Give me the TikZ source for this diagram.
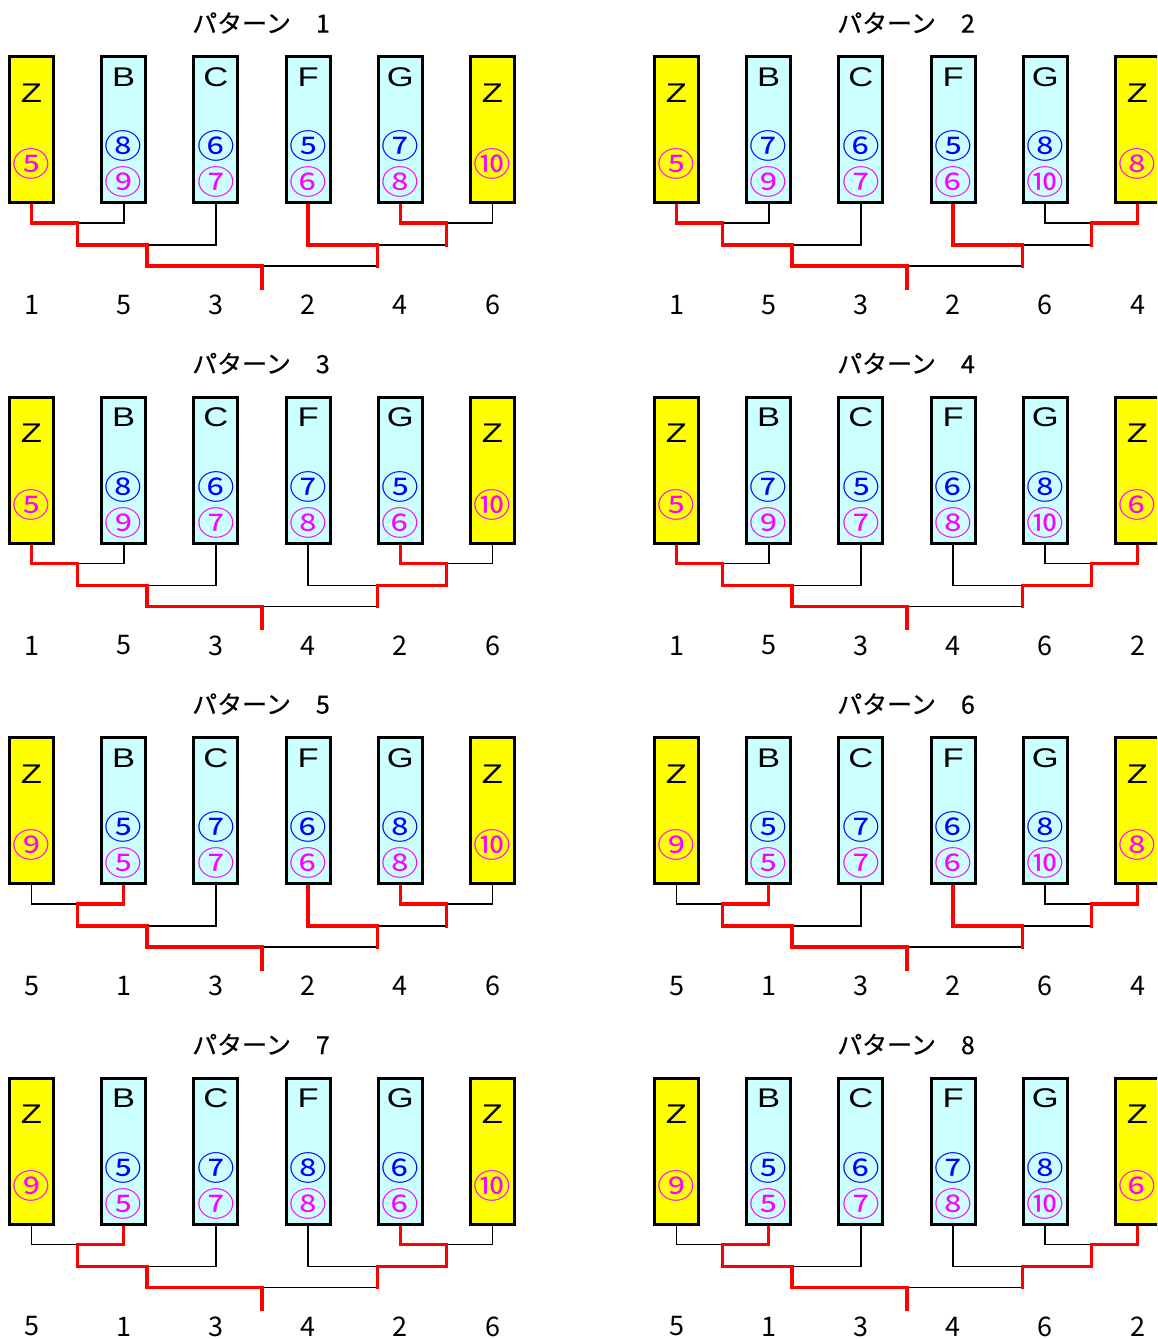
\documentclass[tikz,border=0pt]{standalone}
\usepackage{fontspec}
\setmainfont{Noto Sans CJK JP}
\newfontfamily\latinfont[FakeStretch=1.28]{Liberation Sans}
\newfontfamily\circledfont[FakeStretch=1.14]{Noto Sans CJK JP}
\newfontfamily\titlefont[FakeBold=0.5]{Noto Sans CJK JP}
\usetikzlibrary{backgrounds}
\definecolor{zyellow}{HTML}{FFFF00}
\definecolor{boxcyan}{HTML}{CCFFFF}
\definecolor{numblue}{HTML}{0000FF}
\definecolor{nummagenta}{HTML}{FF00FF}
\definecolor{winred}{HTML}{FF0000}
\begin{document}
\begin{tikzpicture}[x=1pt,y=-1pt,
  box/.style={draw, line width=3pt, minimum width=44pt, minimum height=146pt, inner sep=0pt},
  zbox/.style={box, fill=zyellow},
  cbox/.style={box, fill=boxcyan},
  letter/.style={font={\latinfont\fontsize{27}{27}\selectfont}, inner sep=0pt},
  circled/.style={font={\circledfont\fontsize{33}{33}\selectfont}, inner sep=0pt},
  topnum/.style={circled, text=numblue},
  lownum/.style={circled, text=nummagenta},
  ranknum/.style={font={\fontsize{27}{27}\selectfont}, inner sep=0pt},
  pattitle/.style={font={\titlefont\fontsize{25}{25}\selectfont}, inner sep=0pt},
  lose/.style={draw=black, line width=1.8pt},
  win/.style={draw=winred, line width=3.5pt, line cap=rect}]
\useasboundingbox (0,0) rectangle (1157,1339);
\clip (0,0) rectangle (1157,1339);
\foreach \ox/\oy/\pn/\zl/\cells/\zr/\ranks/\winA/\winB/\winC/\winD/\winE in {
  0/0/1/⑤/{B/⑧/⑨,C/⑥/⑦,F/⑤/⑥,G/⑦/⑧}/⑩/{1,5,3,2,4,6}/L/L/L/L/L,
  645/0/2/⑤/{B/⑦/⑨,C/⑥/⑦,F/⑤/⑥,G/⑧/⑩}/⑧/{1,5,3,2,6,4}/L/L/R/L/L,
  0/340.5/3/⑤/{B/⑧/⑨,C/⑥/⑦,F/⑦/⑧,G/⑤/⑥}/⑩/{1,5,3,4,2,6}/L/L/L/R/L,
  645/340.5/4/⑤/{B/⑦/⑨,C/⑤/⑦,F/⑥/⑧,G/⑧/⑩}/⑥/{1,5,3,4,6,2}/L/L/R/R/L,
  0/681/5/⑨/{B/⑤/⑤,C/⑦/⑦,F/⑥/⑥,G/⑧/⑧}/⑩/{5,1,3,2,4,6}/R/L/L/L/L,
  645/681/6/⑨/{B/⑤/⑤,C/⑦/⑦,F/⑥/⑥,G/⑧/⑩}/⑧/{5,1,3,2,6,4}/R/L/R/L/L,
  0/1021.5/7/⑨/{B/⑤/⑤,C/⑦/⑦,F/⑧/⑧,G/⑥/⑥}/⑩/{5,1,3,4,2,6}/R/L/L/R/L,
  645/1021.5/8/⑨/{B/⑤/⑤,C/⑥/⑦,F/⑦/⑧,G/⑧/⑩}/⑥/{5,1,3,4,6,2}/R/L/R/R/L}{
\begin{scope}[shift={(\ox,\oy)}]
\node[pattitle] (title\pn) at (261,23) {パターン　\pn};
\node[zbox] (box\pn-1) at (31.5,129.5) {};
\node[zbox] (box\pn-6) at (492.5,129.5) {};
\node[letter] (name\pn-1) at (31.5,93) {Z};
\node[letter] (name\pn-6) at (492.5,93) {Z};
\node[lownum] (low\pn-1) at (31.5,164) {\zl};
\node[lownum] (low\pn-6) at (492.5,164) {\zr};
\foreach \cn/\ct/\cb [count=\col from 2] in \cells {
  \pgfmathsetmacro\bx{31.5+92.2*(\col-1)}
  \node[cbox] (box\pn-\col) at (\bx,129.5) {};
  \node[letter] (name\pn-\col) at (\bx,77) {\cn};
  \node[topnum] (top\pn-\col) at (\bx,146) {\ct};
  \node[lownum] (low\pn-\col) at (\bx,182) {\cb};
}
\foreach \rk [count=\col] in \ranks
  \node[ranknum] (rank\pn-\col) at ({31.5+92.2*(\col-1)},305) {\rk};
\coordinate (m1-\pn) at (77.6,223);
\coordinate (m2-\pn) at (146.75,245);
\coordinate (m3-\pn) at (446.4,223);
\coordinate (m4-\pn) at (377.25,245);
\coordinate (m5-\pn) at (262,266);
\coordinate (fin-\pn) at (262,288);
\coordinate (L1-\pn) at (box\pn-1.south);
\coordinate (R1-\pn) at (box\pn-2.south);
\coordinate (L2-\pn) at (m1-\pn);
\coordinate (R2-\pn) at (box\pn-3.south);
\coordinate (L3-\pn) at (box\pn-5.south);
\coordinate (R3-\pn) at (box\pn-6.south);
\coordinate (L4-\pn) at (box\pn-4.south);
\coordinate (R4-\pn) at (m3-\pn);
\coordinate (L5-\pn) at (m2-\pn);
\coordinate (R5-\pn) at (m4-\pn);
\begin{scope}[on background layer]
\foreach \m in {1,...,5} {
  \draw[lose] (L\m-\pn) |- (m\m-\pn);
  \draw[lose] (R\m-\pn) |- (m\m-\pn);
}
\draw[win] (\winA1-\pn) |- (m1-\pn) -- (m1-\pn |- m2-\pn);
\draw[win] (\winB2-\pn) |- (m2-\pn) -- (m2-\pn |- m5-\pn);
\draw[win] (\winC3-\pn) |- (m3-\pn) -- (m3-\pn |- m4-\pn);
\draw[win] (\winD4-\pn) |- (m4-\pn) -- (m4-\pn |- m5-\pn);
\draw[win] (\winE5-\pn) |- (m5-\pn) -- (fin-\pn);
\end{scope}
\end{scope}
}
\end{tikzpicture}
\end{document}
